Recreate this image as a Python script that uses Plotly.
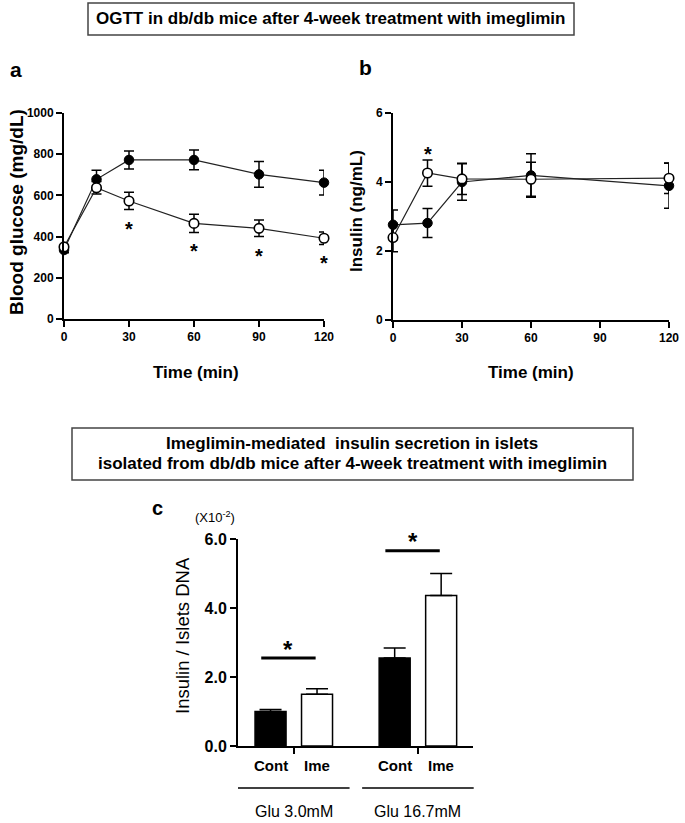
import plotly.graph_objects as go

# ---------------- data ----------------
# Panel a: OGTT blood glucose (mg/dL)
time_a = [0, 15, 30, 60, 90, 120]
glu_cont = [335, 678, 772, 772, 702, 662]
glu_cont_err = [14, 44, 44, 48, 63, 60]
glu_ime = [350, 637, 573, 464, 440, 392]
glu_ime_err = [12, 30, 42, 44, 40, 30]
glu_sig = [False, False, True, True, True, True]

# Panel b: insulin (ng/mL)
time_b = [0, 15, 30, 60, 120]
ins_cont = [2.76, 2.81, 4.00, 4.19, 3.89]
ins_cont_err = [0.43, 0.42, 0.53, 0.63, 0.65]
ins_ime = [2.39, 4.26, 4.09, 4.08, 4.11]
ins_ime_err = [0.41, 0.38, 0.45, 0.49, 0.44]
ins_sig = [False, True, False, False, False]

# Panel c: insulin / islets DNA (x10^-2)
groups = ["Glu 3.0mM", "Glu 16.7mM"]
treatments = ["Cont", "Ime"]
islet_cont = [1.00, 2.55]
islet_cont_err = [0.06, 0.29]
islet_ime = [1.50, 4.36]
islet_ime_err = [0.16, 0.64]
islet_sig_y = [2.55, 5.66]

# ---------------- layout helpers ----------------
W, H = 685, 823
FONT = "Liberation Sans, Arial, sans-serif"


def px(x):
    return x / W


def py(y):
    return 1 - y / H


GROUP_STEP = 2.67
BAR_STEP = 1.0
BAR_W = 0.667
pos_cont = [g * GROUP_STEP for g in range(len(groups))]
pos_ime = [g * GROUP_STEP + BAR_STEP for g in range(len(groups))]
group_centers = [(a + b) / 2 for a, b in zip(pos_cont, pos_ime)]
XC_RANGE = [-0.70, 4.355]
XC_PX = [238, 473]


def xc_px(v):
    return XC_PX[0] + (v - XC_RANGE[0]) / (XC_RANGE[1] - XC_RANGE[0]) * (XC_PX[1] - XC_PX[0])


fig = go.Figure()

errA = dict(type="data", color="black", thickness=1.5, width=5)

# panel a
fig.add_trace(go.Scatter(
    x=time_a, y=glu_cont, mode="lines+markers", xaxis="x", yaxis="y",
    error_y=dict(errA, array=glu_cont_err),
    marker=dict(color="black", size=9.5, line=dict(color="black", width=1)),
    line=dict(color="#222", width=1.2), cliponaxis=False, showlegend=False))
fig.add_trace(go.Scatter(
    x=time_a, y=glu_ime, mode="lines+markers", xaxis="x", yaxis="y",
    error_y=dict(errA, array=glu_ime_err),
    marker=dict(color="white", size=9.5, line=dict(color="black", width=1.6)),
    line=dict(color="#222", width=1.2), cliponaxis=False, showlegend=False))

# panel b
fig.add_trace(go.Scatter(
    x=time_b, y=ins_cont, mode="lines+markers", xaxis="x2", yaxis="y2",
    error_y=dict(errA, array=ins_cont_err),
    marker=dict(color="black", size=9.5, line=dict(color="black", width=1)),
    line=dict(color="#222", width=1.2), cliponaxis=False, showlegend=False))
fig.add_trace(go.Scatter(
    x=time_b, y=ins_ime, mode="lines+markers", xaxis="x2", yaxis="y2",
    error_y=dict(errA, array=ins_ime_err),
    marker=dict(color="white", size=9.5, line=dict(color="black", width=1.6)),
    line=dict(color="#222", width=1.2), cliponaxis=False, showlegend=False))

# panel c
errC = dict(type="data", symmetric=False, color="black", thickness=1.5, width=11)
fig.add_trace(go.Bar(
    x=pos_cont, y=islet_cont, width=BAR_W, xaxis="x3", yaxis="y3",
    marker=dict(color="black", line=dict(color="black", width=1.5)),
    error_y=dict(errC, array=islet_cont_err, arrayminus=[0] * len(groups)),
    showlegend=False))
fig.add_trace(go.Bar(
    x=pos_ime, y=islet_ime, width=BAR_W, xaxis="x3", yaxis="y3",
    marker=dict(color="white", line=dict(color="black", width=1.5)),
    error_y=dict(errC, array=islet_ime_err, arrayminus=[0] * len(groups)),
    showlegend=False))

axis_common = dict(
    showline=True, linecolor="black", linewidth=2, ticks="outside", ticklen=6,
    tickwidth=2, tickcolor="black", showgrid=False, zeroline=False, automargin=False,
    tickfont=dict(family=FONT, size=12, color="black", weight="bold"),
)

annotations = []
shapes = []

# Asterisks panel a (below lower error)
for t, v, e, s in zip(time_a, glu_ime, glu_ime_err, glu_sig):
    if s:
        annotations.append(dict(x=t, y=v - e, xref="x", yref="y", text="*", showarrow=False,
                                xanchor="center", yanchor="middle", yshift=-19,
                                font=dict(family=FONT, size=20, color="black", weight="bold")))
# Asterisks panel b (above upper error)
for t, v, e, s in zip(time_b, ins_ime, ins_ime_err, ins_sig):
    if s:
        annotations.append(dict(x=t, y=v + e, xref="x2", yref="y2", text="*", showarrow=False,
                                xanchor="center", yanchor="middle", yshift=6,
                                font=dict(family=FONT, size=20, color="black", weight="bold")))

# significance bars panel c
for pc, pi, sy in zip(pos_cont, pos_ime, islet_sig_y):
    shapes.append(dict(type="line", xref="x3", yref="y3", x0=pc - 0.2, x1=pi - 0.03, y0=sy, y1=sy,
                       line=dict(color="black", width=3)))
    annotations.append(dict(x=(pc - 0.2 + pi - 0.03) / 2, y=sy, xref="x3", yref="y3", text="*",
                            showarrow=False, xanchor="center", yanchor="middle", yshift=9,
                            font=dict(family=FONT, size=24, color="black", weight="bold")))

# Cont / Ime labels and group labels panel c
for pc, pi in zip(pos_cont, pos_ime):
    for p, lab in zip((pc, pi), treatments):
        annotations.append(dict(x=p, y=py(765), xref="x3", yref="paper", text=lab, showarrow=False,
                                xanchor="center", yanchor="middle",
                                font=dict(family=FONT, size=15, color="black", weight="bold")))
for gc, g in zip(group_centers, groups):
    shapes.append(dict(type="line", xref="paper", yref="paper",
                       x0=px(xc_px(gc - 1.2)), x1=px(xc_px(gc + 1.2)), y0=py(788), y1=py(788),
                       line=dict(color="black", width=1.5)))
    annotations.append(dict(x=px(xc_px(gc)), y=py(811), xref="paper", yref="paper", text=g,
                            showarrow=False, xanchor="center", yanchor="middle",
                            font=dict(family=FONT, size=16, color="black")))


def bold(s):
    return dict(family=FONT, size=s, color="black", weight="bold")


def label(x, y, text, font, angle=0):
    return dict(x=px(x), y=py(y), xref="paper", yref="paper", text=text, textangle=angle,
                showarrow=False, xanchor="center", yanchor="middle", font=font)


annotations += [
    label(16, 212, "Blood glucose (mg/dL)", bold(19), -90),
    label(196, 372, "Time (min)", bold(17)),
    label(357, 211, "Insulin (ng/mL)", bold(17), -90),
    label(531, 372, "Time (min)", bold(17)),
    label(182, 636, "Insulin / Islets DNA", dict(family=FONT, size=18.5, color="black"), -90),
    label(215, 517, "(X10<sup>-2</sup>)", dict(family=FONT, size=13, color="black")),
    # panel letters
    label(16, 69, "a", bold(21)),
    label(366, 67, "b", bold(21)),
    label(157, 508, "c", bold(20)),
    # titles
    label(330, 19, "OGTT in db/db mice after 4-week treatment with imeglimin", bold(17)),
    label(352, 443, "Imeglimin-mediated  insulin secretion in islets", bold(17)),
    label(352, 463, "isolated from db/db mice after 4-week treatment with imeglimin", bold(17)),
]

shapes += [
    dict(type="rect", xref="paper", yref="paper", x0=px(88), x1=px(574), y0=py(35), y1=py(3),
         line=dict(color="#444", width=1.5)),
    dict(type="rect", xref="paper", yref="paper", x0=px(72), x1=px(633), y0=py(480), y1=py(428),
         line=dict(color="#444", width=1.5)),
]

fig.update_layout(
    width=W, height=H, margin=dict(l=0, r=0, t=0, b=0, autoexpand=False),
    paper_bgcolor="white", plot_bgcolor="white",
    font=dict(family=FONT, color="black"),
    barmode="overlay",
    xaxis=dict(axis_common, domain=[px(64), px(324)], range=[0, 120],
               tickvals=[0, 30, 60, 90, 120], anchor="y"),
    yaxis=dict(axis_common, domain=[py(319), py(113)], range=[0, 1000],
               tickvals=[0, 200, 400, 600, 800, 1000], anchor="x"),
    xaxis2=dict(axis_common, domain=[px(393), px(669)], range=[0, 120],
                tickvals=[0, 30, 60, 90, 120], anchor="y2"),
    yaxis2=dict(axis_common, domain=[py(320), py(113)], range=[0, 6],
                tickvals=[0, 2, 4, 6], anchor="x2"),
    xaxis3=dict(axis_common, domain=[px(XC_PX[0]), px(XC_PX[1])], range=XC_RANGE,
                tickvals=group_centers, showticklabels=False, anchor="y3"),
    yaxis3=dict(axis_common, domain=[py(746), py(539)], range=[0, 6],
                tickvals=[0, 2, 4, 6], tickformat=".1f", anchor="x3",
                tickfont=dict(family=FONT, size=16, color="black", weight="bold")),
    annotations=annotations,
    shapes=shapes,
)

fig.write_html(
    "out.html",
    config={"displayModeBar": False},
    post_script="document.body.style.margin='0px';document.body.style.overflow='hidden';",
)
